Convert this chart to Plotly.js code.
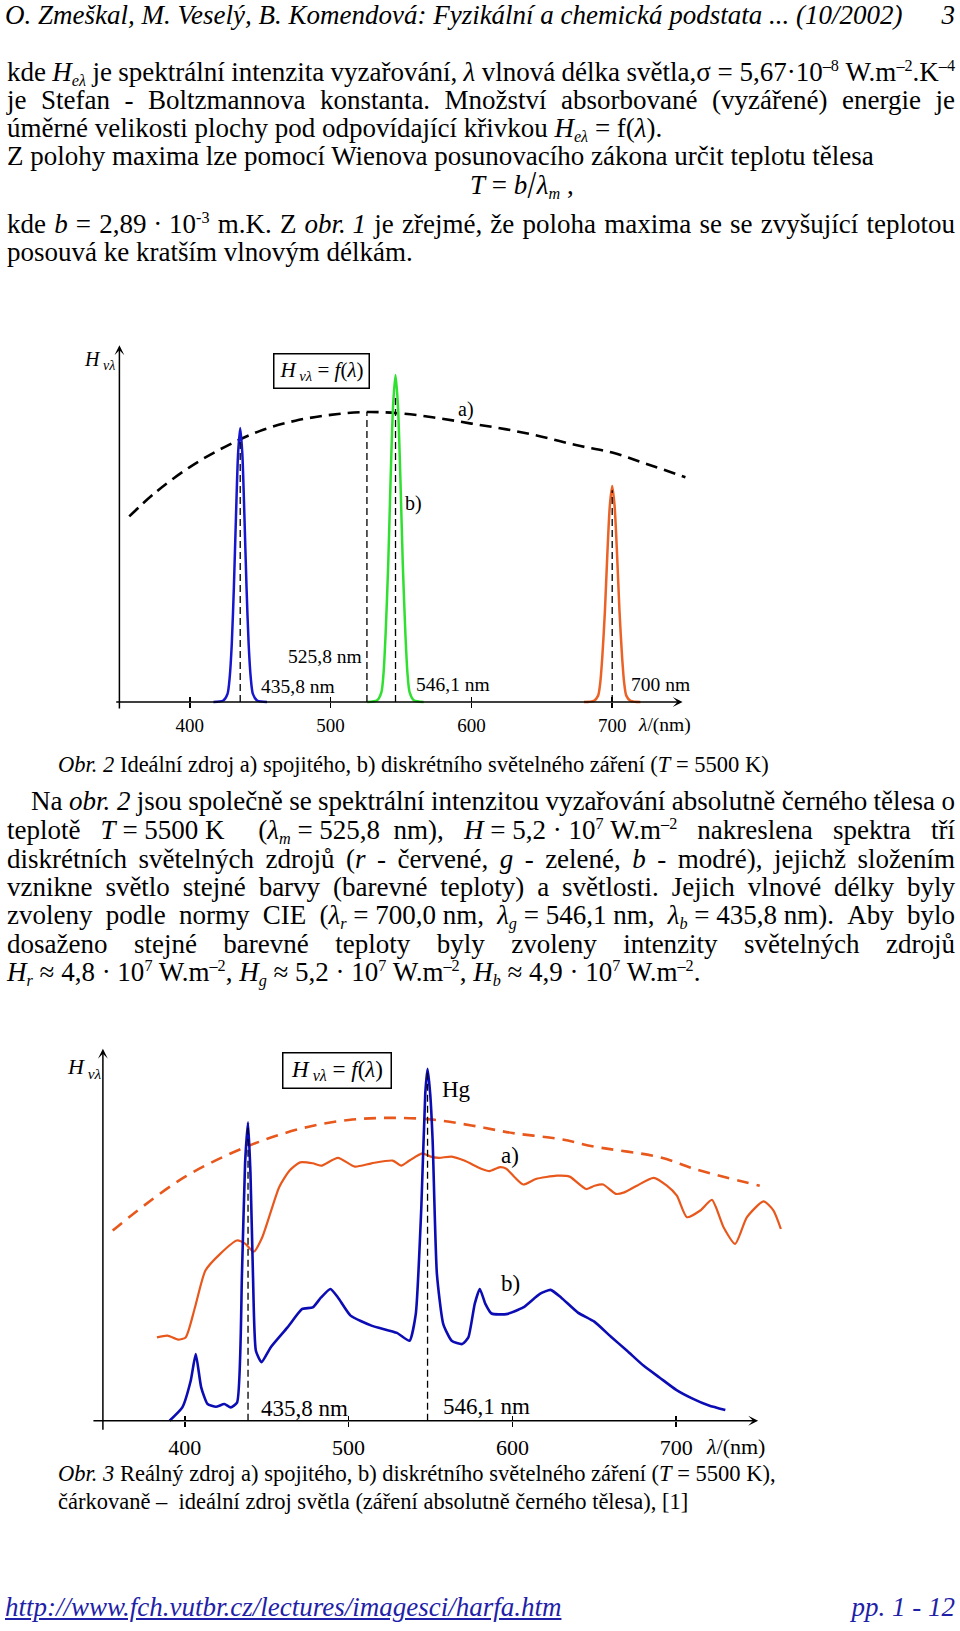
<!DOCTYPE html>
<html><head><meta charset="utf-8">
<script src="https://cdn.plot.ly/plotly-3.0.1.min.js"></script>
<style>
html,body{margin:0;padding:0;background:#fff;}
body{position:relative;width:960px;height:1631px;overflow:hidden;font-family:'Liberation Serif','Times New Roman',serif;color:#000;}
.ln{position:absolute;left:7px;width:948px;font-size:27px;line-height:28px;white-space:nowrap;z-index:2;}
.j{display:flex;justify-content:space-between;}
.cap{position:absolute;left:58px;font-size:22.5px;line-height:24px;white-space:nowrap;z-index:2;}
sup,sub{font-size:0.6em;line-height:0;position:relative;vertical-align:baseline;}
sup{top:-0.62em;} sub{top:0.28em;}
.chart{position:absolute;left:0;width:960px;z-index:1;}
.foot{position:absolute;top:1593px;font-size:27px;line-height:28px;font-style:italic;color:#1f1fa8;white-space:nowrap;z-index:2;}
.sl{display:inline-block;transform:scale(1.15,1.45);margin:0 1px;}
</style></head>
<body>
<div class="ln" style="top:1px;left:5px;font-style:italic;">O. Zmeškal, M. Veselý, B. Komendová: Fyzikální a chemická podstata ... (10/2002)</div>
<div class="ln" style="top:1px;left:auto;right:5px;width:auto;font-style:italic;">3</div>

<div class="ln j" style="top:58px;">kde <i>H</i><sub><i>eλ</i></sub> je spektrální intenzita vyzařování, <i>λ</i> vlnová délka světla,σ&nbsp;=&nbsp;5,67·10<sup>–8</sup>&nbsp;W.m<sup>–2</sup>.K<sup>–4</sup></div>
<div class="ln j" style="top:86px;">je Stefan - Boltzmannova konstanta. Množství absorbované (vyzářené) energie je</div>
<div class="ln" style="top:114px;">úměrné velikosti plochy pod odpovídající křivkou <i>H</i><sub><i>eλ</i></sub> = f(<i>λ</i>).</div>
<div class="ln" style="top:142px;">Z polohy maxima lze pomocí Wienova posunovacího zákona určit teplotu tělesa</div>
<div class="ln" style="top:171px;left:470px;width:auto;"><i>T</i> = <i>b</i><span class="sl">/</span><i>λ</i><sub><i>m</i></sub> ,</div>
<div class="ln j" style="top:210px;">kde <i>b</i> = 2,89&nbsp;·&nbsp;10<sup>-3</sup> m.K. Z <i>obr.&nbsp;1</i> je zřejmé, že poloha maxima se se zvyšující teplotou</div>
<div class="ln" style="top:238px;">posouvá ke kratším vlnovým délkám.</div>

<div id="chart1" class="chart" style="top:320px;height:420px;"></div>

<div class="cap" style="top:753px;"><i>Obr. 2</i> Ideální zdroj a) spojitého, b) diskrétního světelného záření (<i>T</i> = 5500 K)</div>

<div class="ln j" style="top:787px;left:31px;width:924px;">Na <i>obr.&nbsp;2</i> jsou společně se spektrální intenzitou vyzařování absolutně černého tělesa o</div>
<div class="ln j" style="top:816px;">teplotě <i>T</i>&nbsp;=&nbsp;5500&nbsp;K&nbsp;&nbsp; (<i>λ</i><sub><i>m</i></sub>&nbsp;=&nbsp;525,8&nbsp;&nbsp;nm), <i>H</i>&nbsp;=&nbsp;5,2&nbsp;·&nbsp;10<sup>7</sup>&nbsp;W.m<sup>–2</sup> nakreslena spektra tří</div>
<div class="ln j" style="top:845px;">diskrétních světelných zdrojů (<i>r</i> - červené, <i>g</i> - zelené, <i>b</i> - modré), jejichž složením</div>
<div class="ln j" style="top:873px;">vznikne světlo stejné barvy (barevné teploty) a světlosti. Jejich vlnové délky byly</div>
<div class="ln j" style="top:901px;">zvoleny podle normy CIE (<i>λ</i><sub><i>r</i></sub>&nbsp;=&nbsp;700,0&nbsp;nm, <i>λ</i><sub><i>g</i></sub>&nbsp;=&nbsp;546,1&nbsp;nm, <i>λ</i><sub><i>b</i></sub>&nbsp;=&nbsp;435,8&nbsp;nm). Aby bylo</div>
<div class="ln j" style="top:930px;">dosaženo stejné barevné teploty byly zvoleny intenzity světelných zdrojů</div>
<div class="ln" style="top:958px;"><i>H</i><sub><i>r</i></sub> ≈ 4,8 · 10<sup>7</sup> W.m<sup>–2</sup>, <i>H</i><sub><i>g</i></sub> ≈ 5,2 · 10<sup>7</sup> W.m<sup>–2</sup>, <i>H</i><sub><i>b</i></sub> ≈ 4,9 · 10<sup>7</sup> W.m<sup>–2</sup>.</div>

<div id="chart2" class="chart" style="top:1020px;height:450px;"></div>

<div class="cap" style="top:1462px;"><i>Obr. 3</i> Reálný zdroj a) spojitého, b) diskrétního světelného záření (<i>T</i> = 5500 K),</div>
<div class="cap" style="top:1490px;">čárkovaně –&nbsp; ideální zdroj světla (záření absolutně černého tělesa), [1]</div>

<div class="foot" style="left:5px;text-decoration:underline;">http://www.fch.vutbr.cz/lectures/imagesci/harfa.htm</div>
<div class="foot" style="right:5px;">pp. 1 - 12</div>

<script>
// ---------- justified single lines ----------
document.querySelectorAll('.j').forEach(function(el){
  var parts = el.innerHTML.trim().split(/ +/);
  el.innerHTML = parts.map(function(p){return '<span>'+p+'</span>';}).join('');
});

// ---------- shared axis data ----------
const tickVals = [400, 500, 600, 700];
const tickText = ['400', '500', '600', '700'];

// ---------- Obr. 2 : ideal source ----------
const bbX1 = [357, 375, 400, 425, 450, 475, 500, 525, 550, 575, 600, 625, 650, 675, 700, 725, 752];
const bbY1 = [64, 72, 81, 88, 93.5, 97, 99, 100, 99.5, 98, 96, 94, 91.5, 88.5, 86, 82, 77.5];

const blueX1 = [416.8, 423.8, 426.8, 428.3, 429.8, 431.3, 432.8, 434.3, 435.8, 437.3, 438.8, 440.3, 441.8, 443.3, 444.8, 447.8, 454.8];
const blueY1 = [0, 0.5, 2.8, 8.3, 19.9, 39.4, 64.0, 85.7, 94.5, 85.7, 64.0, 39.4, 19.9, 8.3, 2.8, 0.5, 0];

const greenX1 = [526.1, 533.1, 536.1, 537.6, 539.1, 540.9, 542.6, 544.4, 546.1, 547.8, 549.6, 551.3, 553.1, 554.6, 556.1, 559.1, 566.1];
const greenY1 = [0, 0.6, 3.4, 9.9, 23.8, 47.1, 76.5, 102.5, 112.8, 102.5, 76.5, 47.1, 23.8, 9.9, 3.4, 0.6, 0];

const redX1 = [680, 687, 690, 691.5, 693, 694.8, 696.5, 698.3, 700, 701.7, 703.5, 705.2, 707, 708.5, 710, 713, 720];
const redY1 = [0, 0.4, 2.2, 6.6, 15.7, 31.1, 50.4, 67.6, 74.5, 67.6, 50.4, 31.1, 15.7, 6.6, 2.2, 0.4, 0];

const markX1 = [435.8, 525.8, 546.1, 700];
const markTop1 = [91, 100, 106, 73];

// ---------- Obr. 3 : real source ----------
const bbX2 = [356, 375, 400, 425, 450, 475, 500, 524, 550, 575, 600, 629, 650, 690, 712, 751];
const bbY2 = [62.8, 71, 80.5, 87.5, 93, 97, 99.3, 100, 99.5, 97.5, 95, 93, 90.5, 87, 83, 77.6];

const realX = [383.0, 389.4, 395.9, 400.5, 406.2, 412.6, 421.6, 431.8, 437.0, 442.1,
  447.3, 457.6, 464.0, 470.4, 478.1, 483.2, 493.5, 503.8, 514.0, 526.9,
  532.1, 537.2, 544.9, 550.1, 555.2, 562.9, 570.6, 580.9, 586.0, 592.4,
  596.3, 601.4, 606.6, 614.3, 627.1, 634.9, 645.1, 650.2, 655.4, 663.1,
  668.3, 676.0, 686.2, 694.3, 700.4, 706.5, 714.7, 721.8, 728.9, 736.0,
  743.2, 753.3, 759.4, 763.9];
const realY = [27.5, 28.1, 26.8, 27.5, 37.4, 49.6, 55.1, 59.5, 58.4, 55.8,
  60.6, 77.1, 82.6, 85.3, 85.0, 84.2, 86.8, 83.9, 85.0, 85.9,
  84.2, 85.9, 88.3, 87.2, 86.8, 87.2, 85.9, 83.2, 82.4, 83.7,
  83.2, 80.4, 78.0, 79.8, 80.9, 80.6, 76.5, 77.6, 78.0, 74.9,
  75.4, 77.6, 80.2, 77.6, 74.3, 67.2, 69.4, 72.9, 63.9, 58.4,
  67.2, 72.4, 69.4, 63.3];

const discX = [390.7, 398.5, 403.6, 406.7, 410.0, 413.9, 419.0, 424.1, 428.0, 431.9,
  434.9, 436.8, 438.6, 440.1, 441.6, 443.4, 446.8, 452.4, 462.7, 471.7,
  478.1, 483.2, 488.9, 493.5, 501.2, 514.0, 529.5, 537.2, 541.0, 544.4,
  546.8, 548.2, 549.8, 551.3, 553.9, 557.8, 562.9, 569.3, 573.1, 577.0,
  580.1, 583.5, 587.3, 596.3, 606.6, 616.8, 623.3, 629.7, 640, 650,
  660, 670, 680, 690, 700, 710, 720, 730];
const discY = [0, 4.4, 13.2, 22.0, 11.0, 5.5, 4.6, 5.5, 4.4, 6.0,
  48.5, 85, 98.5, 81.5, 48.5, 23.1, 19.3, 24.2, 30.8, 36.9,
  37.4, 40.7, 43.5, 40.7, 34.7, 31.4, 29.0, 26.4, 35.2, 70.5,
  108, 116.2, 108, 92.5, 48.5, 31.9, 26.4, 25.3, 27.5, 38.6,
  43.5, 38.6, 35.4, 35.2, 37.4, 41.9, 43.2, 40.7, 35.7, 32.7,
  27.8, 23.1, 18.2, 14.2, 10.2, 7.3, 5.0, 3.5];

const markX2 = [438.6, 548.2];
const markTop2 = [98, 116];

// ---------- helpers ----------
const SERIF = 'Liberation Serif, Times New Roman, serif';
const X_RANGE = [300, 800];
const Y_RANGE = [-10, 130];

function frame(cfg){
  const l = cfg.x350 - (350 - X_RANGE[0]) * cfg.perNm;
  const w = (X_RANGE[1] - X_RANGE[0]) * cfg.perNm;
  const h = (Y_RANGE[1] - Y_RANGE[0]) * cfg.unit;
  const t = (cfg.axisY - Y_RANGE[1] * cfg.unit) - cfg.divTop;
  return {l: l, r: 960 - l - w, t: t, b: cfg.divH - t - h, pad: 0};
}
function axisPair(cfg){
  const pos = (0 - Y_RANGE[0]) / (Y_RANGE[1] - Y_RANGE[0]);
  const common = {range: X_RANGE, anchor: 'free', position: pos, showgrid: false, zeroline: false,
    showline: false, tickvals: tickVals, ticklen: 5, tickwidth: 1.5, tickcolor: '#000'};
  return {
    xaxis: Object.assign({}, common, {ticks: 'outside', ticktext: tickText,
      tickfont: {family: SERIF, size: cfg.tick, color: '#000'}, ticklabelstandoff: cfg.standoff}),
    xaxis2: Object.assign({}, common, {overlaying: 'x', ticks: 'inside', showticklabels: false}),
    yaxis: {range: Y_RANGE, visible: false, showgrid: false, zeroline: false}
  };
}
function arrow(x, y, ax, ay){
  return {xref: 'x', yref: 'y', axref: 'x', ayref: 'y', x: x, y: y, ax: ax, ay: ay, text: '',
    showarrow: true, arrowhead: 3, arrowsize: 1.1, arrowwidth: 1.5, arrowcolor: '#000'};
}
function label(text, x, y, size, xanchor, extra){
  return Object.assign({xref: 'x', yref: 'y', x: x, y: y, text: text, showarrow: false,
    xanchor: xanchor || 'center', yanchor: 'middle', font: {family: SERIF, size: size, color: '#000'}}, extra || {});
}
function markerTraces(xs, tops){
  return xs.map(function(x, i){
    return {x: [x, x], y: [0, tops[i]], mode: 'lines', hoverinfo: 'skip', showlegend: false,
      line: {color: '#000', width: 1.3, dash: '7px,4px'}};
  });
}
function tickHolder(){
  return {x: tickVals, y: tickVals.map(function(){return 0;}), xaxis: 'x2', mode: 'markers',
    marker: {opacity: 0}, hoverinfo: 'skip', showlegend: false};
}
const HV = '<i>H</i><sub><i> vλ</i></sub>';

// ---------- chart 1 ----------
const cfg1 = {divTop: 320, divH: 420, axisY: 702, unit: 2.9, x350: 119, perNm: 1.41, tick: 19, standoff: 1};
const traces1 = [
  {x: bbX1, y: bbY1, mode: 'lines', line: {color: '#000', width: 2.6, dash: '12px,7px', shape: 'spline', smoothing: 1}, hoverinfo: 'skip', showlegend: false},
  {x: blueX1, y: blueY1, mode: 'lines', line: {color: '#1616cc', width: 2.5, shape: 'spline', smoothing: 0.7}, hoverinfo: 'skip', showlegend: false},
  {x: greenX1, y: greenY1, mode: 'lines', line: {color: '#30e030', width: 2.5, shape: 'spline', smoothing: 0.7}, hoverinfo: 'skip', showlegend: false},
  {x: redX1, y: redY1, mode: 'lines', line: {color: '#ea6226', width: 2.5, shape: 'spline', smoothing: 0.7}, hoverinfo: 'skip', showlegend: false}
].concat(markerTraces(markX1, markTop1), [tickHolder()]);

const layout1 = Object.assign({
  width: 960, height: cfg1.divH, margin: frame(cfg1),
  paper_bgcolor: 'rgba(0,0,0,0)', plot_bgcolor: 'rgba(0,0,0,0)', showlegend: false,
  annotations: [
    arrow(750, 0, 346.7, 0),
    arrow(350, 123, 350, -2.8),
    label(HV, 323.5, 117.6, 20, 'left'),
    label(HV + ' = <i>f</i>(<i>λ</i>)', 493.8, 114, 21, 'center',
      {bordercolor: '#000', borderwidth: 1.5, borderpad: 3, bgcolor: '#fff', width: 88, height: 27}),
    label('a)', 596.5, 101, 20),
    label('b)', 559.2, 68.3, 20),
    label('525,8 nm', 524, 15.6, 19.5, 'right'),
    label('435,8 nm', 449, 5.3, 19.5, 'left'),
    label('546,1 nm', 558.9, 5.9, 19.5, 'left'),
    label('700 nm', 711.7, 5.9, 19.5, 'left'),
    label('<i>λ</i>/(nm)', 717.2, -7.9, 19.5, 'left')
  ]
}, axisPair(cfg1));

Plotly.newPlot('chart1', traces1, layout1, {staticPlot: true, displayModeBar: false});

// ---------- chart 2 ----------
const cfg2 = {divTop: 1020, divH: 450, axisY: 1421, unit: 3.027, x350: 102.7, perNm: 1.638, tick: 22, standoff: 2};
const traces2 = [
  {x: bbX2, y: bbY2, mode: 'lines', line: {color: '#e8581c', width: 2.6, dash: '12px,8px', shape: 'spline', smoothing: 1}, hoverinfo: 'skip', showlegend: false},
  {x: realX, y: realY, mode: 'lines', line: {color: '#e8581c', width: 2.2, shape: 'spline', smoothing: 0.6}, hoverinfo: 'skip', showlegend: false},
  {x: discX, y: discY, mode: 'lines', line: {color: '#0c0cb4', width: 2.6, shape: 'spline', smoothing: 0.5}, hoverinfo: 'skip', showlegend: false}
].concat(markerTraces(markX2, markTop2), [tickHolder()]);

const layout2 = Object.assign({
  width: 960, height: cfg2.divH, margin: frame(cfg2),
  paper_bgcolor: 'rgba(0,0,0,0)', plot_bgcolor: 'rgba(0,0,0,0)', showlegend: false,
  annotations: [
    arrow(750, 0, 343.3, 0),
    arrow(350, 122.8, 350, -3.5),
    label(HV, 326.7, 116.5, 22, 'left'),
    label(HV + ' = <i>f</i>(<i>λ</i>)', 493.2, 115.8, 23, 'center',
      {bordercolor: '#000', borderwidth: 1.5, borderpad: 3, bgcolor: '#fff', width: 101, height: 28}),
    label('Hg', 566.1, 109.2, 23),
    label('a)', 598.6, 87.7, 23),
    label('b)', 598.8, 45.3, 23),
    label('435,8 nm', 445.2, 4.0, 23, 'left'),
    label('546,1 nm', 556.5, 4.6, 23, 'left'),
    label('<i>λ</i>/(nm)', 716.7, -8.6, 22, 'left')
  ]
}, axisPair(cfg2));

Plotly.newPlot('chart2', traces2, layout2, {staticPlot: true, displayModeBar: false});
</script>
</body></html>
